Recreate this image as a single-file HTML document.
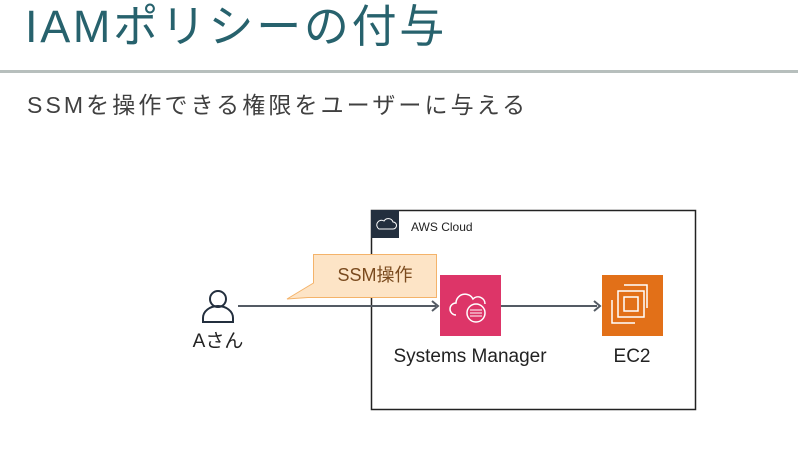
<!DOCTYPE html>
<html><head><meta charset="utf-8"><style>
body{margin:0;width:798px;height:466px;background:#fff;position:relative;overflow:hidden;font-family:"Liberation Sans","Noto Sans CJK JP",sans-serif}
.a{position:absolute;white-space:nowrap}
</style></head><body>
<div class="a" style="left:25px;top:0px;font-size:45px;color:#27626d;line-height:54px;letter-spacing:2.7px">IAMポリシーの付与</div>
<div class="a" style="left:0;top:70px;width:798px;height:3px;background:#b7bfbd"></div>
<div class="a" style="left:27px;top:90px;font-size:23px;color:#404040;line-height:30px;letter-spacing:3.1px">SSMを操作できる権限をユーザーに与える</div>
<svg class="a" style="left:0;top:0" width="798" height="466">
<rect x="371.5" y="210.5" width="324" height="199" fill="none" stroke="#222" stroke-width="1.5"/>
<rect x="371" y="210" width="28" height="28" fill="#232f3e"/>
<path d="M379 229 h14 a3.5 3.5 0 0 0 0-7 a5 5 0 0 0-9-1 a4 4 0 0 0-5 8z" fill="none" stroke="#fff" stroke-width="1"/>
<text x="411" y="231" font-size="12" fill="#222" font-family="Liberation Sans">AWS Cloud</text>
<line x1="238" y1="306" x2="436" y2="306" stroke="#545b64" stroke-width="2"/>
<path d="M432 301 l6 5 l-6 5" fill="none" stroke="#545b64" stroke-width="2"/>
<line x1="501" y1="306" x2="597" y2="306" stroke="#545b64" stroke-width="2"/>
<path d="M594 301 l6 5 l-6 5" fill="none" stroke="#545b64" stroke-width="2"/>
<path d="M313.5 254.5 H436.5 V297.5 H308 L287 299 L313.5 283 Z" fill="#fde4c6" stroke="#f4b36a" stroke-width="1"/>
<text x="375" y="281" font-size="18" fill="#7a4a1e" text-anchor="middle" font-family="Liberation Sans,Noto Sans CJK JP">SSM操作</text>
<circle cx="218" cy="299" r="8" fill="none" stroke="#232f3e" stroke-width="2"/>
<path d="M203 322 v-4 a15 12 0 0 1 30 0 v4 z" fill="none" stroke="#232f3e" stroke-width="2"/>
<text x="218" y="347" font-size="19" fill="#222" text-anchor="middle" font-family="Liberation Sans,Noto Sans CJK JP">Aさん</text>
<rect x="440" y="275" width="61" height="61" fill="#dd3568"/>
<path d="M456 315 a6 6 0 0 1 0-12 a9 9 0 0 1 17-4 a7 7 0 0 1 12 5" fill="none" stroke="#fff" stroke-width="1.5"/>
<circle cx="476" cy="313" r="9" fill="none" stroke="#fff" stroke-width="1.5"/>
<path d="M470 310h12M470 313h12M470 316h12" stroke="#fff" stroke-width="1"/>
<rect x="602" y="275" width="61" height="61" fill="#e27018"/>
<rect x="618" y="291" width="26" height="26" fill="none" stroke="#fff" stroke-width="1.5"/>
<rect x="624" y="297" width="14" height="14" fill="none" stroke="#fff" stroke-width="1.5"/>
<path d="M612 300 v23 h23 M624 285 h23 v23" fill="none" stroke="#fff" stroke-width="1.5"/>
<text x="470" y="362" font-size="19" fill="#222" text-anchor="middle" font-family="Liberation Sans">Systems Manager</text>
<text x="632" y="362" font-size="19" fill="#222" text-anchor="middle" font-family="Liberation Sans">EC2</text>
</svg>
</body></html>
